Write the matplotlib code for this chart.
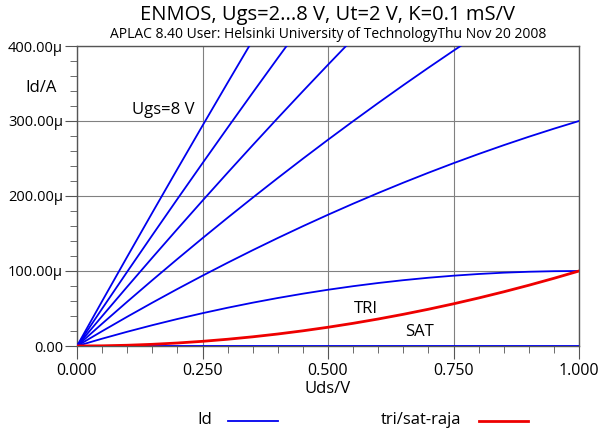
import numpy as np
import matplotlib.pyplot as plt
from matplotlib.ticker import MultipleLocator, FuncFormatter

plt.rcParams['font.family'] = ['Open Sans', 'DejaVu Sans']

# Uds in volts, Id in microamps
uds = [0.00, 0.05, 0.10, 0.15, 0.20, 0.25, 0.30, 0.35, 0.40, 0.45, 0.50,
       0.55, 0.60, 0.65, 0.70, 0.75, 0.80, 0.85, 0.90, 0.95, 1.00]

id_ugs2 = [0] * 21
id_ugs3 = [0, 9.75, 19, 27.75, 36, 43.75, 51, 57.75, 64, 69.75, 75,
           79.75, 84, 87.75, 91, 93.75, 96, 97.75, 99, 99.75, 100]
id_ugs4 = [0, 19.75, 39, 57.75, 76, 93.75, 111, 127.75, 144, 159.75, 175,
           189.75, 204, 217.75, 231, 243.75, 256, 267.75, 279, 289.75, 300]
id_ugs5 = [0, 29.75, 59, 87.75, 116, 143.75, 171, 197.75, 224, 249.75, 275,
           299.75, 324, 347.75, 371, 393.75, 416]
id_ugs6 = [0, 39.75, 79, 117.75, 156, 193.75, 231, 267.75, 304, 339.75, 375, 409.75]
id_ugs7 = [0, 49.75, 99, 147.75, 196, 243.75, 291, 337.75, 384, 429.75]
id_ugs8 = [0, 59.75, 119, 177.75, 236, 293.75, 351, 407.75]

tri_sat = [0, 0.25, 1, 2.25, 4, 6.25, 9, 12.25, 16, 20.25, 25,
           30.25, 36, 42.25, 49, 56.25, 64, 72.25, 81, 90.25, 100]

fig = plt.figure(figsize=(6.03, 4.29), dpi=100)
ax = fig.add_axes([77 / 603, 1 - 346 / 429, 502 / 603, 300 / 429])

blue = '#0000ee'
red = '#ee0000'
for ys in [id_ugs2, id_ugs3, id_ugs4, id_ugs5, id_ugs6, id_ugs7, id_ugs8]:
    ax.plot(uds[:len(ys)], np.array(ys) * 1e-6, color=blue, lw=1.3, zorder=3)
ax.plot(uds, np.array(tri_sat) * 1e-6, color=red, lw=2, zorder=4)

ax.set_xlim(0, 1)
ax.set_ylim(0, 400e-6)
ax.xaxis.set_major_locator(MultipleLocator(0.25))
ax.xaxis.set_minor_locator(MultipleLocator(0.05))
ax.yaxis.set_major_locator(MultipleLocator(100e-6))
ax.yaxis.set_minor_locator(MultipleLocator(20e-6))
ax.xaxis.set_major_formatter(FuncFormatter(lambda v, p: f"{v:.3f}"))
ax.yaxis.set_major_formatter(FuncFormatter(
    lambda v, p: "0.00" if abs(v) < 1e-12 else f"{v * 1e6:.2f}\u00b5"))
ax.grid(True, which='major', color='#808080', lw=0.8)
ax.tick_params(which='major', length=9, color='#555555', pad=1)
ax.tick_params(axis='x', which='major', labelsize=11.5, pad=3)
ax.tick_params(axis='y', which='major', labelsize=10.5)
ax.tick_params(which='minor', length=5, color='#555555')
for s in ax.spines.values():
    s.set_color('#555555')
    s.set_linewidth(1.0)

cx = (77 + 502 / 2) / 603
fig.text(cx, 1 - 15 / 429, "ENMOS, Ugs=2...8 V, Ut=2 V, K=0.1 mS/V",
         ha='center', va='center', fontsize=14.5)
fig.text(cx, 1 - 34 / 429, "APLAC 8.40 User: Helsinki University of TechnologyThu Nov 20 2008",
         ha='center', va='center', fontsize=10)
fig.text(41 / 603, 1 - 88 / 429, "Id/A", ha='center', va='center', fontsize=12)
fig.text(328 / 603, 1 - 389 / 429, "Uds/V", ha='center', va='center', fontsize=12)

ax.text(0.171, 315e-6, "Ugs=8 V", ha='center', va='center', fontsize=12)
ax.text(0.575, 49e-6, "TRI", ha='center', va='center', fontsize=12)
ax.text(0.682, 18.7e-6, "SAT", ha='center', va='center', fontsize=12)

# legend below the plot
fig.text(205 / 603, 1 - 420 / 429, "Id", ha='center', va='center', fontsize=12)
fig.add_artist(plt.Line2D([228 / 603, 278 / 603], [1 - 421 / 429] * 2,
                          color=blue, lw=1.3))
fig.text(421 / 603, 1 - 420 / 429, "tri/sat-raja", ha='center', va='center', fontsize=12)
fig.add_artist(plt.Line2D([479 / 603, 528 / 603], [1 - 421 / 429] * 2,
                          color=red, lw=2))

fig.savefig('out.png', dpi=100)
